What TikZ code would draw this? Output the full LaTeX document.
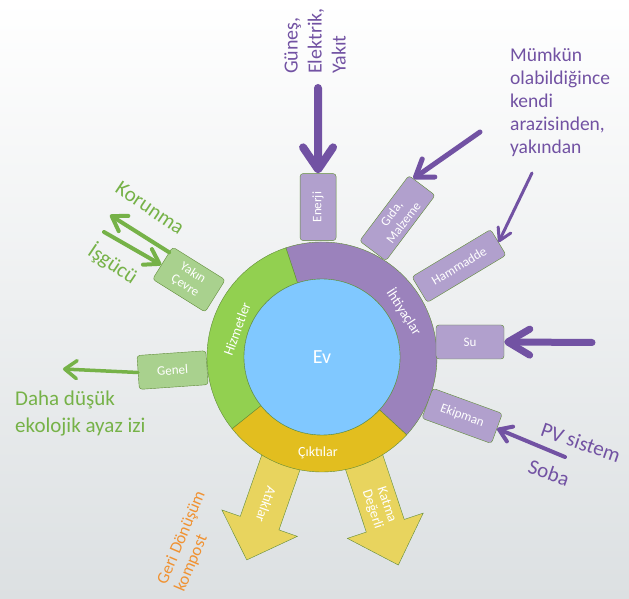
\documentclass[tikz,border=0pt]{standalone}
\usepackage{fontspec}
\setmainfont{Carlito}
\usetikzlibrary{arrows.meta}

\definecolor{ringpurple}{RGB}{155,130,188}
\definecolor{boxpurple}{RGB}{177,160,205}
\definecolor{ringgreen}{RGB}{146,208,80}
\definecolor{boxgreen}{RGB}{169,209,142}
\definecolor{ringyellow}{RGB}{226,190,31}
\definecolor{outyellow}{RGB}{232,212,94}
\definecolor{evblue}{RGB}{128,200,255}
\definecolor{edgegreen}{RGB}{96,140,56}
\definecolor{inkpurple}{RGB}{114,82,163}
\definecolor{inkgreen}{RGB}{118,178,72}
\definecolor{inkorange}{RGB}{240,146,50}
\definecolor{bggray}{RGB}{220,224,226}

\begin{document}
\begin{tikzpicture}[x=1pt, y=1pt]
\tikzstyle{needbox}=[rectangle, rounded corners=3pt, draw=edgegreen, fill=boxpurple, text=white, align=center, inner sep=1pt, font=\fontsize{13}{15}\selectfont]
\tikzstyle{servbox}=[needbox, fill=boxgreen]
\tikzstyle{ringtext}=[text=white, align=center, font=\fontsize{14}{15}\selectfont]
\tikzstyle{outshape}=[fill=outyellow, draw=edgegreen]
\tikzstyle{purplenote}=[text=inkpurple, align=left, inner sep=0pt, font=\fontsize{20}{24}\selectfont]
\tikzstyle{greennote}=[text=inkgreen, align=left, inner sep=0pt, font=\fontsize{21}{27}\selectfont]
\tikzstyle{inarrow}=[draw=inkpurple, line cap=round]
\tikzstyle{outarrow}=[draw=inkgreen, line cap=round]

% 1. Background
%%%%%%%%%%%%%%%
\useasboundingbox (-322,-242) rectangle (307,357);
\shade[top color=white, bottom color=bggray] (-322,-242) rectangle (307,357);

% 2. Outputs (under the ring)
%%%%%%%%%%%%%%%%%%%%%%%%%%%%%
\begin{scope}[shift={(-111.4:108)}, rotate=-109.3]
\filldraw[outshape] (0,-20.5) -- (69.5,-20.5) -- (69.5,-40) -- (108.5,0) -- (69.5,40) -- (69.5,20.5) -- (0,20.5) -- cycle;
\node[ringtext, rotate=-109.3] (atiklar) at (50,0) {Atıklar};
\end{scope}
\begin{scope}[shift={(-68:108)}, rotate=-71.6]
\filldraw[outshape] (0,-20) -- (72.3,-20) -- (72.3,-40) -- (113.7,0) -- (72.3,40) -- (72.3,20) -- (0,20) -- cycle;
\node[ringtext, rotate=-71.6] (katma) at (53,0) {Katma\\Değerli};
\end{scope}

% 3. Ring
%%%%%%%%%
\filldraw[fill=ringpurple, draw=edgegreen] (-42.6:78) arc[start angle=-42.6, end angle=108.3, radius=78]
  -- (108.3:115) arc[start angle=108.3, end angle=-42.6, radius=115] -- cycle;
\filldraw[fill=ringgreen, draw=edgegreen] (108.3:78) arc[start angle=108.3, end angle=218.6, radius=78]
  -- (218.6:115) arc[start angle=218.6, end angle=108.3, radius=115] -- cycle;
\filldraw[fill=ringyellow, draw=edgegreen] (218.6:78) arc[start angle=218.6, end angle=317.4, radius=78]
  -- (317.4:115) arc[start angle=317.4, end angle=218.6, radius=115] -- cycle;
\node[circle, fill=evblue, draw=edgegreen, minimum size=156pt, text=white, font=\fontsize{20}{24}\selectfont] (ev) at (0,0) {Ev};

\node[ringtext, rotate=-57] (ihtiyac) at (82,45) {İhtiyaçlar};
\node[ringtext, rotate=70] (hizmet) at (-85,28) {Hizmetler};
\node[ringtext] (cikti) at (-4,-96) {Çıktılar};

% 4. Boxes
%%%%%%%%%%
\node[needbox, minimum width=67pt, minimum height=36pt, rotate=90] (enerji) at (91.5:150) {Enerji};
\node[needbox, minimum width=82pt, minimum height=33pt, rotate=53] (gida) at (61.5:158) {Gıda,\\Malzeme};
\node[needbox, minimum width=92pt, minimum height=30pt, rotate=31] (hammadde) at (33.6:164.5) {Hammadde};
\node[needbox, minimum width=68pt, minimum height=34pt] (su) at (5.8:148.8) {Su};
\node[needbox, minimum width=74pt, minimum height=32pt, rotate=-20] (ekipman) at (-22.8:152) {Ekipman};
\node[servbox, minimum width=62pt, minimum height=38pt, rotate=-32] (yakin) at (149.8:154) {Yakın\\Çevre};
\node[servbox, minimum width=69pt, minimum height=34pt, rotate=4] (genel) at (185:150) {Genel};

% 5. Notes
%%%%%%%%%%
\node[purplenote, rotate=90] (kaynak) at (-7,316) {Güneş,\\Elektrik,\\Yakıt};
\node[purplenote, anchor=north west, font=\fontsize{19.5}{23}\selectfont] (yerel) at (188,309) {Mümkün\\olabildiğince\\kendi\\arazisinden,\\yakından};
\node[purplenote, rotate=-19, font=\fontsize{21}{26}\selectfont] (pv) at (252.5,-104) {PV sistem\\[13pt]Soba};
\node[greennote, rotate=-34] (korunma) at (-172,149) {Korunma};
\node[greennote, rotate=-34] (isgucu) at (-209,93) {İşgücü};
\node[greennote, anchor=north west] (ayak) at (-307,-34) {Daha düşük\\ekolojik ayaz izi};
\node[text=inkorange, align=left, rotate=67, font=\fontsize{17}{19}\selectfont] (geri) at (-131.5,-184.5) {Geri Dönüşüm\\kompost};

% 6. Arrows
%%%%%%%%%%%
\coordinate (gunesstart) at (-4,269);
\coordinate (gidastart) at (158,225);
\coordinate (hamstart) at (210,184);
\coordinate (sustart) at (270,14.5);
\coordinate (pvstart) at (243,-100);
\coordinate (korunmaend) at (-212,142);
\coordinate (isgucustart) at (-218,125);
\coordinate (genelend) at (-259,-12);

\draw[inarrow, line width=8pt, -{Straight Barb[round, length=22pt, width=30pt]}] (gunesstart) -- (enerji.east);
\draw[inarrow, line width=5pt, -{Straight Barb[round, length=16pt, width=22pt]}] (gidastart) -- (gida.15);
\draw[inarrow, line width=3pt, -{Straight Barb[round, length=12pt, width=14pt]}] (hamstart) -- (hammadde.east);
\draw[inarrow, line width=7pt, -{Straight Barb[round, length=22pt, width=26pt]}] (sustart) -- (su.east);
\draw[inarrow, line width=4pt, -{Straight Barb[round, length=12pt, width=16pt]}] (pvstart) -- (ekipman.east);
\draw[outarrow, line width=4pt, -{Straight Barb[round, length=14pt, width=18pt]}] (yakin.158) -- (korunmaend);
\draw[outarrow, line width=4pt, -{Straight Barb[round, length=14pt, width=18pt]}] (isgucustart) -- (yakin.184);
\draw[outarrow, line width=3.5pt, -{Straight Barb[round, length=12pt, width=18pt]}] (genel.west) -- (genelend);

\end{tikzpicture}
\end{document}
